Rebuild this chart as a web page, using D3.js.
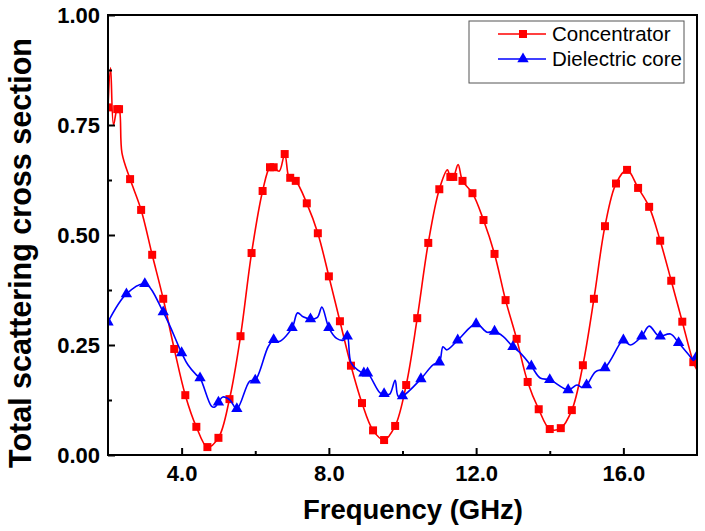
<!DOCTYPE html>
<html>
<head>
<meta charset="utf-8">
<script src="https://d3js.org/d3.v7.min.js"></script>
<style>
  body { margin: 0; background: #fff; }
  text { font-family: "Liberation Sans", Arial, sans-serif; }
</style>
</head>
<body>
<svg id="chart" width="705" height="531"></svg>
<script>
// Concentrator - marker points
var concFreq = [2.0, 2.25, 2.3, 2.6, 2.9, 3.2, 3.5, 3.8, 4.1, 4.4, 4.7, 5.0, 5.3, 5.6, 5.9, 6.2, 6.4, 6.5, 6.8, 6.95, 7.1, 7.4, 7.7, 8.0, 8.3, 8.6, 8.9, 9.2, 9.5, 9.8, 10.1, 10.4, 10.7, 11.0, 11.3, 11.38, 11.63, 11.9, 12.2, 12.5, 12.8, 13.1, 13.4, 13.7, 14.0, 14.3, 14.6, 14.9, 15.2, 15.5, 15.8, 16.1, 16.4, 16.7, 17.0, 17.3, 17.6, 17.9];
var concValue = [0.79, 0.786, 0.786, 0.627, 0.557, 0.455, 0.355, 0.241, 0.136, 0.064, 0.018, 0.039, 0.127, 0.27, 0.459, 0.60, 0.654, 0.654, 0.684, 0.63, 0.623, 0.572, 0.504, 0.406, 0.304, 0.203, 0.118, 0.056, 0.034, 0.066, 0.159, 0.311, 0.482, 0.604, 0.632, 0.632, 0.623, 0.595, 0.534, 0.457, 0.352, 0.264, 0.166, 0.104, 0.059, 0.061, 0.102, 0.204, 0.355, 0.52, 0.617, 0.648, 0.607, 0.564, 0.487, 0.396, 0.303, 0.211];
// Concentrator - line-only readings (wiggles between markers)
var concExtraFreq = [2.07, 2.15, 2.38, 6.65, 6.9, 11.22, 11.51, 18.0];
var concExtraValue = [0.88, 0.75, 0.686, 0.645, 0.635, 0.648, 0.66, 0.193];

// Dielectric core - marker points
var coreFreq = [2.0, 2.5, 3.0, 3.5, 4.0, 4.5, 5.0, 5.5, 6.0, 6.5, 7.0, 7.5, 8.0, 8.5, 8.95, 9.05, 9.5, 10.0, 10.5, 11.0, 11.5, 12.0, 12.5, 13.0, 13.5, 14.0, 14.5, 15.0, 15.5, 16.0, 16.5, 17.0, 17.5, 18.0];
var coreValue = [0.302, 0.366, 0.389, 0.325, 0.232, 0.175, 0.120, 0.105, 0.170, 0.262, 0.289, 0.309, 0.289, 0.27, 0.186, 0.186, 0.139, 0.134, 0.173, 0.211, 0.261, 0.298, 0.281, 0.246, 0.202, 0.171, 0.148, 0.159, 0.198, 0.261, 0.27, 0.27, 0.255, 0.225];
// Dielectric core - line-only readings
var coreExtraFreq = [4.17, 4.4, 4.81, 4.9, 5.12, 5.31, 5.85, 6.35, 6.65, 7.15, 7.3, 7.69, 7.81, 8.21, 8.4, 8.6, 8.79, 9.39, 9.65, 9.8, 9.88, 10.83, 11.1, 11.2, 12.3, 12.74, 13.2, 13.74, 14.74, 14.87, 15.24, 15.92, 16.19, 16.7, 16.92, 17.28, 17.82, 17.9];
var coreExtraValue = [0.205, 0.182, 0.111, 0.109, 0.132, 0.125, 0.168, 0.246, 0.258, 0.323, 0.314, 0.313, 0.336, 0.265, 0.261, 0.21, 0.193, 0.141, 0.138, 0.17, 0.134, 0.205, 0.246, 0.239, 0.279, 0.269, 0.232, 0.175, 0.159, 0.154, 0.189, 0.255, 0.25, 0.293, 0.273, 0.275, 0.223, 0.215];

var xMajor = [4, 8, 12, 16];
var xMinor = [6, 10, 14];
var yMajor = [0, 0.25, 0.5, 0.75, 1.0];
var yMinor = [0.125, 0.375, 0.625, 0.875];

var svg = d3.select("#chart");
// note: "top" is reserved on window, so use plotTop
var plotLeft = 108, plotRight = 697, plotTop = 15, plotBottom = 455;

var x = d3.scaleLinear().domain([2, 18]).range([plotLeft, plotRight]);
var y = d3.scaleLinear().domain([0, 1]).range([plotBottom, plotTop]);

function pairs(fs, vs) {
  return fs.map(function (f, i) { return [f, vs[i]]; });
}
function linePts(fs, vs, efs, evs) {
  return pairs(fs, vs).concat(pairs(efs, evs)).sort(function (a, b) { return a[0] - b[0]; });
}

var line = d3.line()
  .x(function (d) { return x(d[0]); })
  .y(function (d) { return y(d[1]); })
  .curve(d3.curveCatmullRom.alpha(0.5));

svg.append("clipPath").attr("id", "clip")
  .append("rect").attr("x", plotLeft).attr("y", plotTop)
  .attr("width", plotRight - plotLeft).attr("height", plotBottom - plotTop);

var series = [
  { name: "Concentrator", color: "#ff0000", marker: d3.symbolSquare, size: 64,
    pts: linePts(concFreq, concValue, concExtraFreq, concExtraValue), marks: pairs(concFreq, concValue) },
  { name: "Dielectric core", color: "#0000ff", marker: d3.symbolTriangle, size: 56,
    pts: linePts(coreFreq, coreValue, coreExtraFreq, coreExtraValue), marks: pairs(coreFreq, coreValue) }
];

var dataG = svg.append("g").attr("clip-path", "url(#clip)");
series.forEach(function (s) {
  dataG.append("path")
    .attr("d", line(s.pts))
    .attr("fill", "none")
    .attr("stroke", s.color)
    .attr("stroke-width", 1.6);
  dataG.selectAll(null)
    .data(s.marks)
    .enter().append("path")
    .attr("d", d3.symbol().type(s.marker).size(s.size))
    .attr("transform", function (d) { return "translate(" + x(d[0]) + "," + y(d[1]) + ")"; })
    .attr("fill", s.color);
});

// axes
svg.append("g").attr("transform", "translate(0," + plotBottom + ")")
  .call(d3.axisBottom(x).tickValues(xMajor).tickFormat(d3.format(".1f")).tickSizeInner(-7).tickSizeOuter(0).tickPadding(10));
svg.append("g").attr("transform", "translate(0," + plotBottom + ")")
  .call(d3.axisBottom(x).tickValues(xMinor).tickFormat("").tickSizeInner(-4).tickSizeOuter(0));
svg.append("g").attr("transform", "translate(" + plotLeft + ",0)")
  .call(d3.axisLeft(y).tickValues(yMajor).tickFormat(d3.format(".2f")).tickSizeInner(-7).tickSizeOuter(0).tickPadding(8));
svg.append("g").attr("transform", "translate(" + plotLeft + ",0)")
  .call(d3.axisLeft(y).tickValues(yMinor).tickFormat("").tickSizeInner(-4).tickSizeOuter(0));

svg.selectAll(".tick line").attr("stroke", "#000").attr("stroke-width", 2);
svg.selectAll(".domain").attr("stroke", "none");
svg.selectAll(".tick text")
  .attr("font-size", 22).attr("font-weight", "bold").attr("fill", "#000")
  .style("font-family", "'Liberation Sans', Arial, sans-serif");

// frame
svg.append("rect")
  .attr("x", plotLeft).attr("y", plotTop).attr("width", plotRight - plotLeft).attr("height", plotBottom - plotTop)
  .attr("fill", "none").attr("stroke", "#000").attr("stroke-width", 2);

// titles
svg.append("text")
  .attr("x", 413).attr("y", 519)
  .attr("text-anchor", "middle")
  .attr("font-size", 27.5).attr("font-weight", "bold")
  .text("Frequency (GHz)");
svg.append("text")
  .attr("transform", "translate(31,253) rotate(-90)")
  .attr("text-anchor", "middle")
  .attr("font-size", 30.5).attr("font-weight", "bold")
  .text("Total scattering cross section");

// legend
var lg = svg.append("g");
lg.append("rect").attr("x", 469).attr("y", 21).attr("width", 215).attr("height", 62)
  .attr("fill", "#fff").attr("stroke", "#555").attr("stroke-width", 1);
series.forEach(function (s, i) {
  var ly = 34 + i * 25;
  lg.append("line").attr("x1", 498).attr("x2", 546).attr("y1", ly).attr("y2", ly)
    .attr("stroke", s.color).attr("stroke-width", 1.6);
  lg.append("path").attr("d", d3.symbol().type(s.marker).size(s.size))
    .attr("transform", "translate(523," + ly + ")").attr("fill", s.color);
  lg.append("text").attr("x", 552).attr("y", ly + 7)
    .attr("font-size", 20.5).text(s.name);
});
</script>
</body>
</html>
